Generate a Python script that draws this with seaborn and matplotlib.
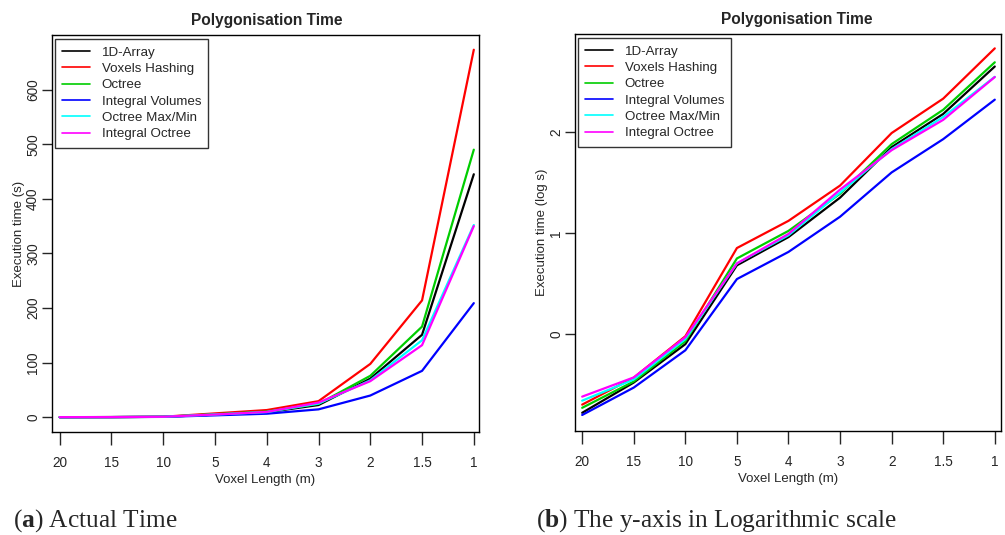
import numpy as np
import pandas as pd
import seaborn as sns
import matplotlib.pyplot as plt

# voxel lengths (m), plotted as equally spaced categories
voxel_lengths = ["20", "15", "10", "5", "4", "3", "2", "1.5", "1"]

methods = ["1D-Array", "Voxels Hashing", "Octree", "Integral Volumes",
           "Octree Max/Min", "Integral Octree"]
colors = ["#000000", "#FF0000", "#00CD00", "#0000FF", "#00FFFF", "#FF00FF"]

# polygonisation time in seconds
t_1d_array = [0.166, 0.331, 0.794, 4.79, 9.12, 22.4, 70.8, 151, 445]
t_voxels_hashing = [0.20, 0.37, 0.95, 7.1, 13.2, 29.5, 97.7, 214, 673]
t_octree = [0.186, 0.339, 0.85, 5.6, 10.5, 24.5, 75.9, 166, 490]
t_integral_volumes = [0.158, 0.295, 0.69, 3.5, 6.5, 14.5, 39.8, 85, 209]
t_octree_maxmin = [0.219, 0.355, 0.89, 5.0, 9.5, 25.1, 67.6, 141, 352]
t_integral_octree = [0.240, 0.372, 0.93, 5.0, 9.8, 26.9, 66.1, 132, 350]

series = [t_1d_array, t_voxels_hashing, t_octree, t_integral_volumes,
          t_octree_maxmin, t_integral_octree]

rows = []
for name, vals in zip(methods, series):
    for i, v in enumerate(vals):
        rows.append({"pos": i, "method": name, "time": v, "logtime": np.log10(v)})
df = pd.DataFrame(rows)

sns.set_style("white")
plt.rcParams["font.family"] = ["Liberation Sans", "DejaVu Sans"]
plt.rcParams["mathtext.fontset"] = "custom"
plt.rcParams["mathtext.rm"] = "Liberation Serif"
plt.rcParams["mathtext.bf"] = "Liberation Serif:bold"

fig = plt.figure(figsize=(10.05, 5.35), dpi=100)
ax1 = fig.add_axes([0.0517, 0.1925, 0.4249, 0.7421])
ax2 = fig.add_axes([0.5721, 0.1944, 0.4239, 0.742])


def style_panel(ax, ycol, ylabel, yticks, title_x):
    sns.lineplot(data=df, x="pos", y=ycol, hue="method", hue_order=methods,
                 palette=colors, linewidth=1.6, ax=ax, estimator=None)
    for s in ax.spines.values():
        s.set_color("black")
        s.set_linewidth(1.0)
    ax.set_xticks(range(len(voxel_lengths)))
    ax.set_xticklabels(voxel_lengths, fontsize=9.8)
    ax.set_yticks(yticks)
    ax.set_yticklabels([str(t) for t in yticks], fontsize=9.8, rotation=90, va="center")
    ax.tick_params(axis="x", length=9, width=1, direction="out", pad=8, bottom=True)
    ax.tick_params(axis="y", length=7.5, width=1, direction="out", pad=1, left=True)
    ax.set_xlabel("Voxel Length (m)", fontsize=9.5, labelpad=3)
    ax.set_ylabel(ylabel, fontsize=9.5, labelpad=1)
    ax.text(title_x, 1.018, "Polygonisation Time", transform=ax.transAxes,
            ha="center", va="bottom", fontsize=11.2, fontweight="bold")
    handles, labels = ax.get_legend_handles_labels()
    leg = ax.legend(handles, labels, loc="upper left", bbox_to_anchor=(0.007, 0.99),
                    borderaxespad=0, fontsize=9.6, frameon=True, fancybox=False,
                    handlelength=2.1, handletextpad=0.85, labelspacing=0.3,
                    borderpad=0.55)
    for h in leg.get_lines():
        h.set_linewidth(1.2)
    leg.get_frame().set_edgecolor("black")
    leg.get_frame().set_linewidth(1.0)


style_panel(ax1, "time", "Execution time (s)", [0, 100, 200, 300, 400, 500, 600], 0.503)
ax1.set_xlim(-0.15, 8.1)
ax1.set_ylim(-27, 700)

style_panel(ax2, "logtime", "Execution time (log s)", [0, 1, 2], 0.52)
ax2.set_xlim(-0.14, 8.12)
ax2.set_ylim(-0.96, 2.97)

serif = ["Liberation Serif", "DejaVu Serif"]
fig.text(0.013, 0.015, r"($\mathbf{a}$) Actual Time", fontsize=18.3, family=serif,
         va="baseline")
fig.text(0.533, 0.015, r"($\mathbf{b}$) The y-axis in Logarithmic scale", fontsize=18.3,
         family=serif, va="baseline")

fig.savefig("out.png", dpi=100)
